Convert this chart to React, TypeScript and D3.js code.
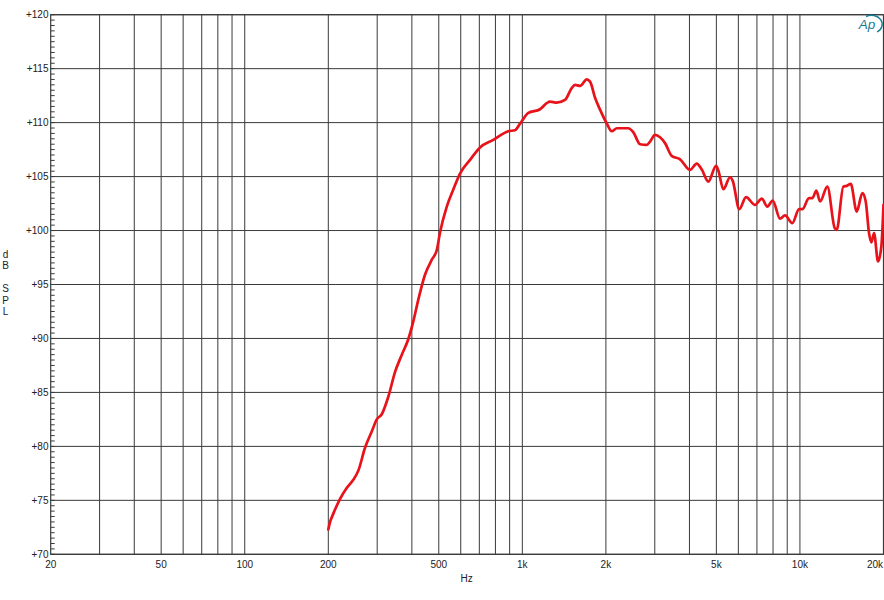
import React from "react";
import * as d3 from "d3";

const freqs: number[] = [
  200, 203, 208, 220, 233, 246, 257, 271, 287, 299, 312, 329, 348, 368, 388, 405, 422, 446, 472, 492,
  505, 534, 564, 597, 648, 704, 786, 890, 941, 981, 1051, 1158, 1224, 1258, 1330, 1425, 1506, 1548,
  1614, 1706, 1754, 1828, 1905, 2013, 2099, 2191, 2409, 2512, 2655, 2806, 2884, 3006, 3133, 3267,
  3453, 3700, 4019, 4249, 4430, 4677, 4987, 5082, 5298, 5601, 5727, 6048, 6394, 6891, 7287, 7632,
  7980, 8480, 8836, 9389, 9927, 10200, 10784, 11084, 11459, 11814, 12553, 13349, 13568, 14334,
  14745, 15241, 16021, 16780, 17258, 17738, 18081, 18492, 19115, 19646, 20000,
];
const spl: number[] = [
  72.3, 73.0, 73.7, 75.1, 76.15, 76.9, 77.8, 79.85, 81.4, 82.5, 83.0, 84.6, 86.9, 88.5, 89.9, 91.6,
  93.6, 95.9, 97.3, 98.2, 99.8, 102.2, 103.8, 105.3, 106.55, 107.7, 108.4, 109.2, 109.3, 109.9,
  110.9, 111.24, 111.8, 111.95, 111.85, 112.1, 113.2, 113.5, 113.4, 114.0, 113.8, 112.3, 111.2,
  109.94, 109.2, 109.48, 109.48, 109.1, 108.0, 107.94, 108.24, 108.86, 108.65, 108.1, 106.92,
  106.6, 105.62, 106.2, 105.65, 104.54, 105.99, 105.56, 103.83, 104.94, 104.6, 101.98, 103.1,
  102.38, 102.95, 102.22, 102.78, 101.1, 101.4, 100.69, 101.98, 101.98, 103.0, 103.0, 103.7,
  102.69, 104.07, 100.22, 100.07, 104.07, 104.14, 104.32, 101.76, 103.46, 102.69, 99.76, 98.89,
  99.76, 97.13, 98.52, 102.38,
];

const xGrid: number[] = [
  30, 40, 50, 60, 70, 80, 90, 100, 200, 300, 400, 500, 600, 700, 800, 900, 1000, 2000, 3000, 4000,
  5000, 6000, 7000, 8000, 9000, 10000,
];
const xTickVals: number[] = [20, 50, 100, 200, 500, 1000, 2000, 5000, 10000, 20000];
const xTickLabels: string[] = ["20", "50", "100", "200", "500", "1k", "2k", "5k", "10k", "20k"];
const yTickVals: number[] = [70, 75, 80, 85, 90, 95, 100, 105, 110, 115, 120];
const yLabelLetters: string[] = ["d", "B", "", "S", "P", "L"];

const W = 884;
const H = 600;
const left = 50.7;
const right = 883.5;
const top = 14.7;
const bottom = 554.3;

export default function App() {
  const x = d3.scaleLog().domain([20, 20000]).range([left, right]);
  const y = d3.scaleLinear().domain([70, 120]).range([bottom, top]);
  const data = freqs.map((f, i) => [f, spl[i]] as [number, number]);
  const line = d3
    .line<[number, number]>()
    .x((d) => x(d[0]))
    .y((d) => y(d[1]))
    .curve(d3.curveMonotoneX);
  const minor = d3.range(70, 120.01, 0.5);
  const font = "Arial, 'Liberation Sans', sans-serif";
  const gridColor = "#3a3a3a";

  return (
    <svg
      width={W}
      height={H}
      style={{ position: "absolute", left: 0, top: 0, background: "#fff" }}
      fontFamily={font}
    >
      <rect x={0} y={0} width={W} height={H} fill="#fff" />
      {xGrid.map((v) => (
        <line key={"xg" + v} x1={x(v)} x2={x(v)} y1={top} y2={bottom} stroke={gridColor} strokeWidth={1} />
      ))}
      {yTickVals.map((v) => (
        <line key={"yg" + v} x1={left} x2={right} y1={y(v)} y2={y(v)} stroke={gridColor} strokeWidth={1} />
      ))}
      {minor.map((v) => (
        <line key={"mt" + v} x1={left} x2={left + 4} y1={y(v)} y2={y(v)} stroke={gridColor} strokeWidth={1} />
      ))}
      <rect x={left} y={top} width={right - left} height={bottom - top} fill="none" stroke={gridColor} strokeWidth={1.2} />
      <path d={line(data) || ""} fill="none" stroke="#e8121a" strokeWidth={2.7} strokeLinejoin="round" strokeLinecap="round" />
      {yTickVals.map((v) => (
        <text key={"yl" + v} x={48.5} y={y(v)} dy="0.35em" textAnchor="end" fontSize={10} fill="#222">
          {"+" + v}
        </text>
      ))}
      {xTickVals.map((v, i) => {
        const last = i === xTickVals.length - 1;
        return (
          <text
            key={"xl" + v}
            x={last ? 883 : x(v)}
            y={567.5}
            textAnchor={last ? "end" : "middle"}
            fontSize={10}
            fill="#222"
          >
            {xTickLabels[i]}
          </text>
        );
      })}
      <text x={466.7} y={582} textAnchor="middle" fontSize={10} fill="#222">
        Hz
      </text>
      {yLabelLetters.map((c, i) => (
        <text key={"lab" + i} x={5.5} y={258 + i * 11.4} textAnchor="middle" fontSize={10} fill="#222">
          {c}
        </text>
      ))}
      <g>
        <text x={867} y={29} textAnchor="middle" fontSize={13.5} fontStyle="italic" fill="#1a7d95">
          Ap
        </text>
        <path d="M866,16.5 A9.5 8 0 0 1 877,32" fill="none" stroke="#1a7d95" strokeWidth={1.4} />
      </g>
    </svg>
  );
}
